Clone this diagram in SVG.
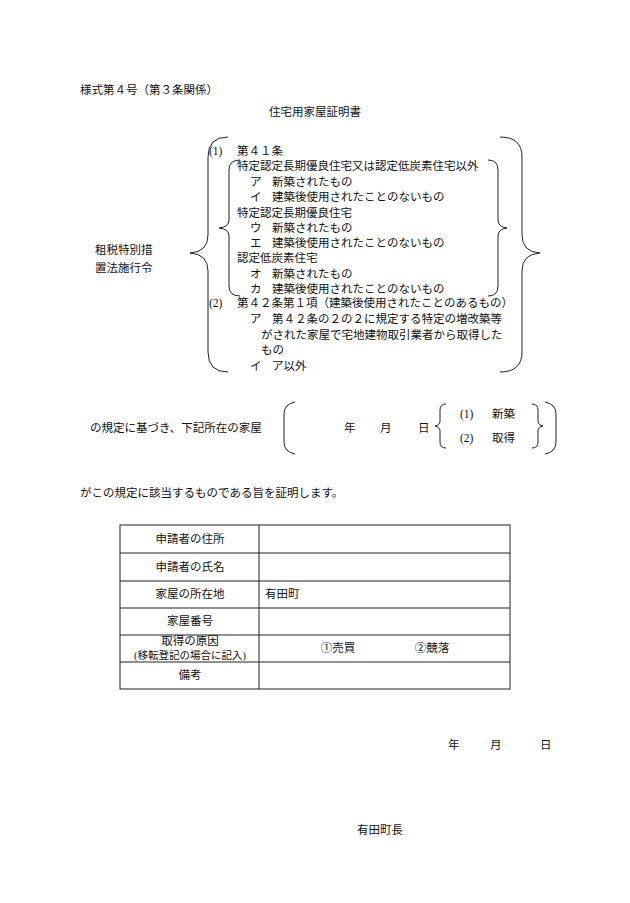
<svg xmlns="http://www.w3.org/2000/svg" width="630" height="903" viewBox="0 0 630 903">
<style>
text{font-family:"Liberation Serif","Noto Sans CJK JP",serif;font-size:11.5px;fill:#111}
.b{fill:none;stroke:#222;stroke-width:1}
.c{text-anchor:middle}
</style>
<rect width="630" height="903" fill="#fff"/>
<text x="80" y="94">様式第４号（第３条関係）</text>
<text x="315" y="116" class="c">住宅用家屋証明書</text>
<text x="95" y="254">租税特別措</text>
<text x="95" y="272">置法施行令</text>
<g id="brackets">
<path class="b" d="M228,137 Q208,137 208,157 L208,235 Q208,252 190,253 Q208,254 208,271 L208,352 Q208,372 228,372"/>
<path class="b" d="M500,137 Q522,137 522,157 L522,235 Q522,252 540,253 Q522,254 522,271 L522,352 Q522,372 500,372"/>
<path class="b" d="M240,160 Q229,160 229,170 L229,220 Q229,227 219,228 Q229,229 229,236 L229,286 Q229,296 240,296"/>
<path class="b" d="M488,160 Q498,160 498,170 L498,220 Q498,227 507,228 Q498,229 498,236 L498,286 Q498,296 488,296"/>
<path class="b" d="M295,402 Q284,404 284,414 L284,442 Q284,452 295,454"/>
<path class="b" d="M545,402 Q556,404 556,414 L556,442 Q556,452 545,454"/>
<path class="b" d="M446,404 Q440,404 440,410 L440,421 Q440,425 435,426 Q440,427 440,431 L440,442 Q440,448 446,448"/>
<path class="b" d="M532,404 Q538,404 538,410 L538,421 Q538,425 543,426 Q538,427 538,431 L538,442 Q538,448 532,448"/>
</g>
<g id="items">
<text x="209" y="155">(1)</text><text x="237" y="155">第４１条</text>
<text x="237" y="170">特定認定長期優良住宅又は認定低炭素住宅以外</text>
<text x="250" y="186">ア</text><text x="272" y="186">新築されたもの</text>
<text x="250" y="201">イ</text><text x="272" y="201">建築後使用されたことのないもの</text>
<text x="237" y="217">特定認定長期優良住宅</text>
<text x="250" y="232">ウ</text><text x="272" y="232">新築されたもの</text>
<text x="250" y="247">エ</text><text x="272" y="247">建築後使用されたことのないもの</text>
<text x="237" y="262">認定低炭素住宅</text>
<text x="250" y="278">オ</text><text x="272" y="278">新築されたもの</text>
<text x="250" y="293">カ</text><text x="272" y="293">建築後使用されたことのないもの</text>
<text x="209" y="307">(2)</text><text x="237" y="307">第４２条第１項（建築後使用されたことのあるもの）</text>
<text x="250" y="323">ア</text><text x="272" y="323">第４２条の２の２に規定する特定の増改築等</text>
<text x="261" y="339">がされた家屋で宅地建物取引業者から取得した</text>
<text x="261" y="354">もの</text>
<text x="250" y="370">イ</text><text x="272" y="370">ア以外</text>
</g>
<text x="90" y="432">の規定に基づき、下記所在の家屋</text>
<text x="344" y="432">年</text><text x="380" y="432">月</text><text x="418" y="432">日</text>
<text x="460" y="418">(1)</text><text x="492" y="418">新築</text>
<text x="460" y="442">(2)</text><text x="492" y="442">取得</text>
<text x="80" y="497">がこの規定に該当するものである旨を証明します。</text>
<g id="table">
<rect class="b" x="120" y="525" width="390" height="164"/>
<path class="b" d="M259,525V689M120,553H510M120,581H510M120,608H510M120,635H510M120,662H510"/>
<text x="190" y="543" class="c">申請者の住所</text>
<text x="190" y="571" class="c">申請者の氏名</text>
<text x="190" y="598" class="c">家屋の所在地</text>
<text x="265" y="598">有田町</text>
<text x="190" y="625" class="c">家屋番号</text>
<text x="190" y="645" class="c">取得の原因</text>
<text x="190" y="659" class="c" style="font-size:10.5px">(移転登記の場合に記入)</text>
<text x="338" y="652" class="c">①売買</text>
<text x="432" y="652" class="c">②競落</text>
<text x="190" y="679" class="c">備考</text>
</g>
<text x="448" y="749">年</text><text x="490" y="749">月</text><text x="540" y="749">日</text>
<text x="357" y="834">有田町長</text>
</svg>
